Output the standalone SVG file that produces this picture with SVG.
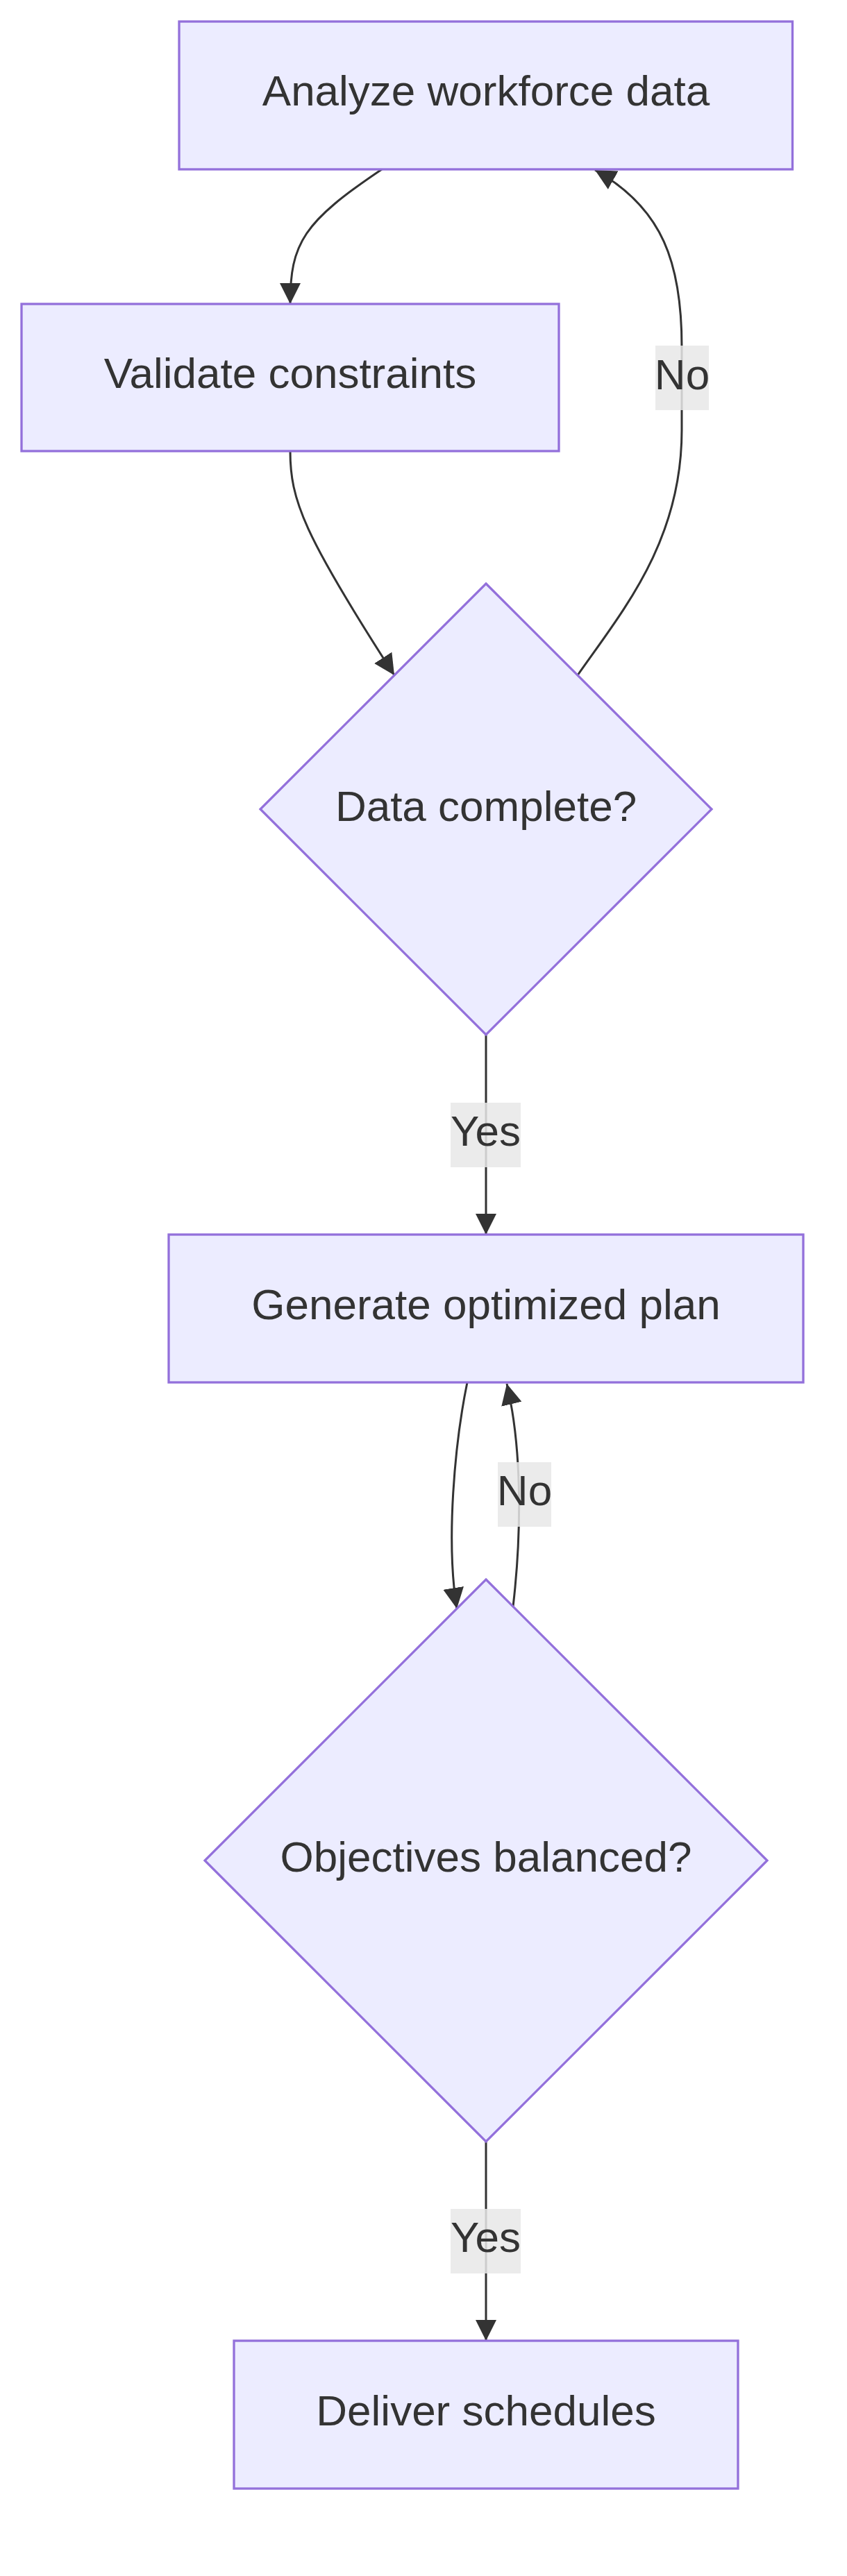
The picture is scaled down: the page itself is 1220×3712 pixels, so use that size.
<svg xmlns="http://www.w3.org/2000/svg" width="1220" height="3712" viewBox="0 0 1220 3712">
<style>
.node rect,.node polygon{fill:#ECECFF;stroke:#9370DB;stroke-width:3.3}
.node text,.lbl text{font-family:"Liberation Sans",Arial,sans-serif;font-size:62px;fill:#333333;text-anchor:middle}
.edge{fill:none;stroke:#333333;stroke-width:3}
.lbl rect{fill:#e8e8e8;opacity:0.85}
</style>
<defs>
<marker id="arrow" viewBox="0 0 10 10" refX="10" refY="5" markerUnits="userSpaceOnUse" markerWidth="30" markerHeight="30" orient="auto">
<path d="M0,0 L10,5 L0,10 z" fill="#333333"/>
</marker>
</defs>
<rect width="1220" height="3712" fill="#ffffff"/>
<g id="connectors">
<path class="edge" d="M550,244 C437,320 418,350 418,438" marker-end="url(#arrow)"/>
<path class="edge" d="M418,650 C418,720 437,770 568,973" marker-end="url(#arrow)"/>
<path class="edge" d="M832,973 C897,880 982,780 982,620 L982,500 C982,380 955,300 857,245" marker-end="url(#arrow)"/>
<path class="edge" d="M700,1491 L700,1779" marker-end="url(#arrow)"/>
<path class="edge" d="M673,1992 C655,2080 642,2220 658,2318" marker-end="url(#arrow)"/>
<path class="edge" d="M739,2315 C749,2230 755,2100 730,1994" marker-end="url(#arrow)"/>
<path class="edge" d="M700,3086 L700,3373" marker-end="url(#arrow)"/>
<g class="lbl" id="label-no-1"><rect x="944" y="498" width="77" height="93"/><text x="982.5" y="561">No</text></g>
<g class="lbl" id="label-yes-1"><rect x="649" y="1589" width="101" height="93"/><text x="699.5" y="1651">Yes</text></g>
<g class="lbl" id="label-no-2"><rect x="717" y="2107" width="77" height="93"/><text x="755.5" y="2169">No</text></g>
<g class="lbl" id="label-yes-2"><rect x="649" y="3183" width="101" height="93"/><text x="699.5" y="3245">Yes</text></g>
</g>
<g class="node" id="node-analyze"><rect x="258" y="31" width="883.5" height="213"/><text x="700" y="152">Analyze workforce data</text></g>
<g class="node" id="node-validate"><rect x="31" y="438" width="774" height="212"/><text x="418" y="559">Validate constraints</text></g>
<g class="node" id="node-data-complete"><polygon points="700,841 1025,1166 700,1491 375,1166"/><text x="700" y="1183">Data complete?</text></g>
<g class="node" id="node-generate"><rect x="243" y="1779" width="914" height="213"/><text x="700" y="1901">Generate optimized plan</text></g>
<g class="node" id="node-objectives"><polygon points="700,2276 1105,2681 700,3086 295,2681"/><text x="700" y="2697">Objectives balanced?</text></g>
<g class="node" id="node-deliver"><rect x="337" y="3373" width="726" height="213"/><text x="700" y="3495">Deliver schedules</text></g>
</svg>
